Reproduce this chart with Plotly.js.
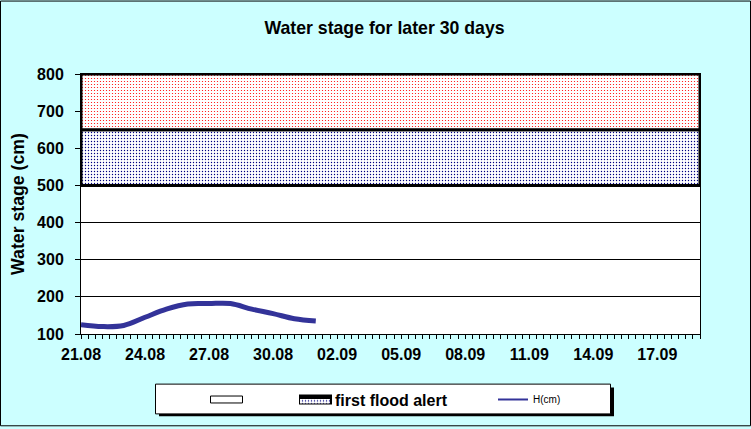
<!DOCTYPE html>
<html>
<head>
<meta charset="utf-8">
<script src="https://cdn.plot.ly/plotly-3.0.1.min.js"></script>
<style>
  html, body { margin: 0; padding: 0; background: #CCFFFF; }
  #chart { width: 751px; height: 429px; }
</style>
</head>
<body>
<div id="chart"></div>
<script>
// ---- data ----
const dates = ['2023-08-21','2023-08-22','2023-08-23','2023-08-24','2023-08-25','2023-08-26',
               '2023-08-27','2023-08-28','2023-08-29','2023-08-30','2023-08-31','2023-09-01'];
const stage = [125, 120, 123, 145, 167, 181, 182, 182, 167, 155, 141, 135];
const axisStart = '2023-08-21';
const axisEnd = '2023-09-19';
const bandLevels = [100, 500, 650, 800];
const bandNames = ['', 'first flood alert', 'second flood alert'];
const seriesName = 'H(cm)';

// ---- helpers ----
function bandPoly(lo, hi) {
  return {
    x: [axisStart, axisEnd, axisEnd, axisStart, axisStart],
    y: [lo, lo, hi, hi, lo]
  };
}
const FONT = 'Liberation Sans, Arial, sans-serif';
const LINE_COLOR = '#333399';

const b0 = bandPoly(bandLevels[0], bandLevels[1]);
const b1 = bandPoly(bandLevels[1], bandLevels[2]);
const b2 = bandPoly(bandLevels[2], bandLevels[3]);

const traces = [
  { type: 'scatter', mode: 'lines', x: b0.x, y: b0.y, fill: 'toself',
    fillcolor: 'rgba(255,255,255,0)', line: { color: 'black', width: 0 },
    name: bandNames[0], legend: 'legend', hoverinfo: 'skip' },
  { type: 'scatter', mode: 'lines', x: b1.x, y: b1.y, fill: 'toself',
    fillcolor: 'white',
    fillpattern: { shape: '.', fgcolor: '#000080', bgcolor: 'white', size: 3, solidity: 0.17 },
    line: { color: 'black', width: 3 },
    name: bandNames[1], legend: 'legend2', hoverinfo: 'skip' },
  { type: 'scatter', mode: 'lines', x: b2.x, y: b2.y, fill: 'toself',
    fillcolor: 'white',
    fillpattern: { shape: '.', fgcolor: '#FF0000', bgcolor: 'white', size: 3, solidity: 0.13 },
    line: { color: 'black', width: 3 },
    name: bandNames[2], showlegend: false, hoverinfo: 'skip' },
  { type: 'scatter', mode: 'lines', x: dates, y: stage,
    line: { color: LINE_COLOR, width: 5, shape: 'spline', smoothing: 1 },
    name: seriesName, showlegend: false },
  // legend key for the series (thin line, as in the original legend)
  { type: 'scatter', mode: 'lines', x: [null], y: [null],
    line: { color: LINE_COLOR, width: 2 },
    name: seriesName, legend: 'legend3', hoverinfo: 'skip' }
];

// pixel -> paper helpers (plot area: x 81..700, y 74..336)
const PL = 81, PR = 700, PT = 74, PB = 336;
const px = v => (v - PL) / (PR - PL);
const py = v => (PB - v) / (PB - PT);

const legendCommon = {
  orientation: 'h', bgcolor: 'rgba(0,0,0,0)', borderwidth: 0,
  xanchor: 'left', yanchor: 'middle', xref: 'paper', yref: 'paper'
};

const layout = {
  width: 751, height: 429,
  margin: { l: PL, r: 751 - PR, t: PT, b: 429 - PB, pad: 0 },
  paper_bgcolor: '#CCFFFF',
  plot_bgcolor: 'white',
  font: { family: FONT, color: 'black' },
  title: {
    text: 'Water stage for later 30 days',
    font: { family: FONT, size: 17.7, weight: 'bold', color: 'black' },
    x: 384.5 / 751, xref: 'container', xanchor: 'center',
    y: 1 - 28 / 429, yref: 'container', yanchor: 'middle'
  },
  xaxis: {
    type: 'date',
    range: [axisStart, axisEnd],
    tick0: axisStart,
    dtick: 3 * 86400000,
    tickformat: '%d.%m',
    ticks: 'outside', ticklen: 4, tickwidth: 1, tickcolor: 'black',
    minor: { dtick: 8 * 3600000, ticks: 'outside', ticklen: 4, tickwidth: 1, tickcolor: 'black', showgrid: false },
    showgrid: false, zeroline: false,
    showline: true, linecolor: 'black', linewidth: 1, mirror: true,
    tickfont: { family: FONT, size: 16, weight: 'bold', color: 'black' },
    ticklabelstandoff: 2,
    fixedrange: true
  },
  yaxis: {
    range: [100, 800],
    dtick: 100, tick0: 100,
    ticks: 'outside', ticklen: 5, tickwidth: 1, tickcolor: 'black',
    showgrid: true, gridcolor: 'black', gridwidth: 1,
    zeroline: false,
    showline: true, linecolor: 'black', linewidth: 1, mirror: true,
    tickfont: { family: FONT, size: 16, weight: 'bold', color: 'black' },
    ticklabelstandoff: 8,
    title: { text: 'Water stage (cm)\u00A0\u00A0', font: { family: FONT, size: 17.7, weight: 'bold', color: 'black' }, standoff: 7 },
    fixedrange: true
  },
  showlegend: true,
  legend: Object.assign({}, legendCommon, {
    x: px(205), y: py(402),
    font: { family: FONT, size: 16, weight: 'bold', color: 'black' }
  }),
  legend2: Object.assign({}, legendCommon, {
    x: px(295), y: py(402),
    font: { family: FONT, size: 16, weight: 'bold', color: 'black' }
  }),
  legend3: Object.assign({}, legendCommon, {
    x: px(493), y: py(402),
    font: { family: FONT, size: 10, weight: 'normal', color: 'black' }
  }),
  shapes: [
    // legend shadow
    { type: 'rect', xref: 'paper', yref: 'paper', layer: 'below',
      x0: px(159), x1: px(614), y0: py(419), y1: py(390),
      fillcolor: 'black', line: { width: 0 } },
    // legend box
    { type: 'rect', xref: 'paper', yref: 'paper', layer: 'below',
      x0: px(155.5), x1: px(610.5), y0: py(416.5), y1: py(386.5),
      fillcolor: 'white', line: { color: 'black', width: 1 } },
    // legend key frames (Excel-style boxed keys)
    { type: 'rect', xref: 'paper', yref: 'paper', layer: 'above',
      x0: px(210.5), x1: px(242.5), y0: py(405.5), y1: py(398.5),
      fillcolor: 'white', line: { color: 'black', width: 1 } },
    { type: 'rect', xref: 'paper', yref: 'paper', layer: 'above',
      x0: px(300), x1: px(331), y0: py(406), y1: py(398),
      fillcolor: 'rgba(0,0,0,0)', line: { color: 'black', width: 2 } },
    // outer chart border
    { type: 'rect', xref: 'paper', yref: 'paper', layer: 'above',
      x0: px(0.5), x1: px(750.5), y0: py(428.5), y1: py(0.5),
      fillcolor: 'rgba(0,0,0,0)', line: { color: 'black', width: 1 } }
  ]
};

Plotly.newPlot('chart', traces, layout, { displayModeBar: false, staticPlot: true });
</script>
</body>
</html>
